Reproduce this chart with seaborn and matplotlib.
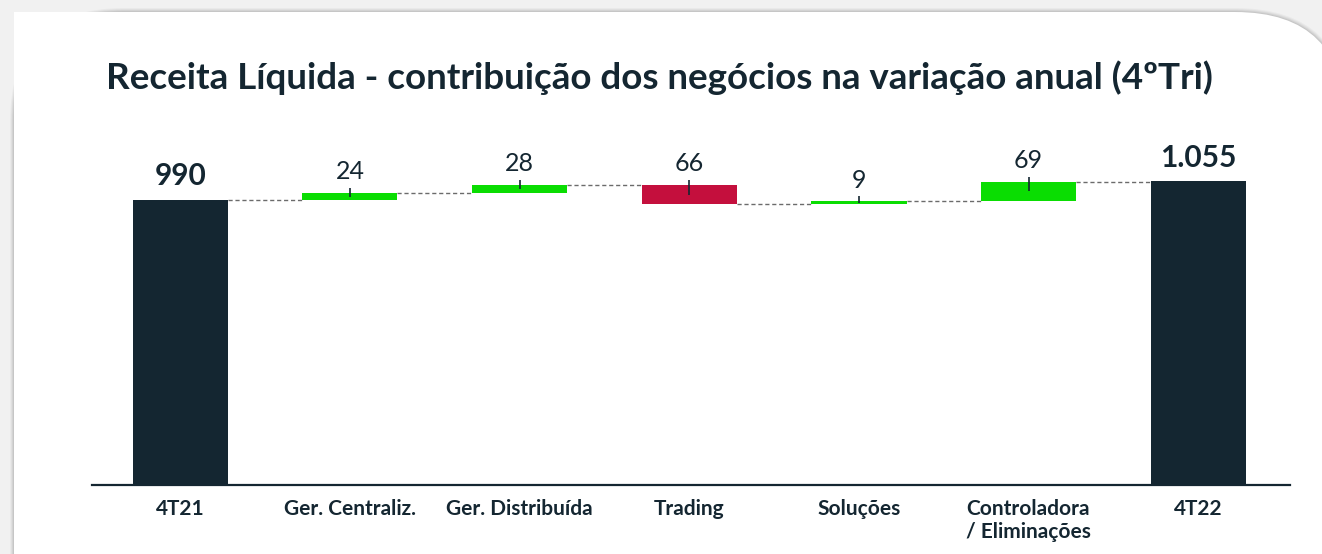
import numpy as np
import pandas as pd
import matplotlib
matplotlib.use("Agg")
import matplotlib.pyplot as plt
from matplotlib.patches import FancyBboxPatch, Rectangle
import seaborn as sns

# ---- data ----
categories = ["4T21", "Ger. Centraliz.", "Ger. Distribuída", "Trading",
              "Soluções", "Controladora\n/ Eliminações", "4T22"]
start_value = 990
end_value = 1055
deltas = [24, 28, -66, 9, 69]
value_labels = ["990", "24", "28", "66", "9", "69", "1.055"]
title = "Receita Líquida - contribuição dos negócios na variação anual (4ºTri)"

# ---- derived waterfall geometry ----
cum = [start_value]
for d in deltas:
    cum.append(cum[-1] + d)
bottoms = [0]
heights = [start_value]
for i, d in enumerate(deltas):
    prev = cum[i]
    bottoms.append(prev if d >= 0 else prev + d)
    heights.append(abs(d))
bottoms.append(0)
heights.append(end_value)
levels = cum[:]  # level after each bar (for connectors)

df = pd.DataFrame({"cat": categories, "height": heights})

NAVY = "#142631"
GREEN = "#0add02"
RED = "#c40f3d"
colors = [NAVY] + [GREEN if d >= 0 else RED for d in deltas] + [NAVY]

sns.set_theme(style="white")
plt.rcParams["font.family"] = ["Lato", "DejaVu Sans"]

W, H = 1322, 554
fig = plt.figure(figsize=(W / 100, H / 100), dpi=100)
fig.patch.set_facecolor("#f1f1f1")

# card background with soft shadow (only top-right corner rounded)
px = lambda v: v / 100.0
CARD_L, CARD_T, CARD_R, RAD = 14, 12, 1345, 110
for k, a in enumerate([0.03, 0.04, 0.05, 0.06]):
    g = 4 - k
    sh = FancyBboxPatch((px(CARD_L - g), px(-200)), px(CARD_R - CARD_L + 2 * g),
                        px(H - CARD_T + g + 200),
                        boxstyle=f"round,pad=0,rounding_size={px(RAD + g)}",
                        transform=fig.dpi_scale_trans, facecolor="#000000",
                        edgecolor="none", alpha=a, zorder=-12)
    fig.patches.append(sh)
card = FancyBboxPatch((px(CARD_L), px(-200)), px(CARD_R - CARD_L), px(H - CARD_T + 200),
                      boxstyle=f"round,pad=0,rounding_size={px(RAD)}",
                      transform=fig.dpi_scale_trans, facecolor="white",
                      edgecolor="none", zorder=-11)
fig.patches.append(card)
fig.patches.append(Rectangle((px(CARD_L), 0), px(600), px(H - CARD_T),
                             transform=fig.dpi_scale_trans, facecolor="white",
                             edgecolor="none", zorder=-10))

ax = fig.add_axes([92 / W, 1 - 485 / H, (1290 - 92) / W, (485 - 140) / H])
ax.set_facecolor("none")

width = 0.56
sns.barplot(data=df, x="cat", y="height", bottom=bottoms, width=width,
            color=NAVY, ax=ax, saturation=1)
for p, c in zip(ax.patches, colors):
    p.set_facecolor(c)
    p.set_edgecolor("none")

px_per_unit = 0.2879
ymax = (485 - 140) / px_per_unit
ax.set_ylim(0, ymax)
ax.set_xlim(-0.52, 6.54)

# connectors
for i in range(len(categories) - 1):
    ax.plot([i + width / 2, i + 1 - width / 2], [levels[i], levels[i]],
            ls=(0, (3, 2)), color="#6b6b6b", lw=1.0, zorder=1)

# small markers and labels
for i in range(len(categories)):
    top = bottoms[i] + heights[i]
    is_total = i in (0, len(categories) - 1)
    if not is_total:
        mid = bottoms[i] + heights[i] / 2
        ax.vlines(i, mid, top + 5 / px_per_unit, color=NAVY, lw=1.2, zorder=4)
    ax.annotate(value_labels[i], (i, top), xytext=(0, 7), textcoords="offset points",
                ha="center", va="bottom", color=NAVY,
                fontsize=21.5 if is_total else 18,
                fontweight="bold" if is_total else "normal")

sns.despine(ax=ax, left=True, top=True, right=True)
ax.spines["bottom"].set_color(NAVY)
ax.spines["bottom"].set_linewidth(1.6)
ax.set_yticks([])
ax.set_xlabel("")
ax.set_ylabel("")
ax.tick_params(axis="x", length=0, pad=10)
for lab in ax.get_xticklabels():
    lab.set_fontweight("bold")
    lab.set_fontsize(15)
    lab.set_color(NAVY)
    lab.set_verticalalignment("top")
    lab.set_multialignment("left")

fig.text(659 / W, 1 - 78 / H, title, ha="center", va="center",
         fontsize=26.5, fontweight="bold", color=NAVY)

fig.savefig("out.png", dpi=100, facecolor=fig.get_facecolor())
